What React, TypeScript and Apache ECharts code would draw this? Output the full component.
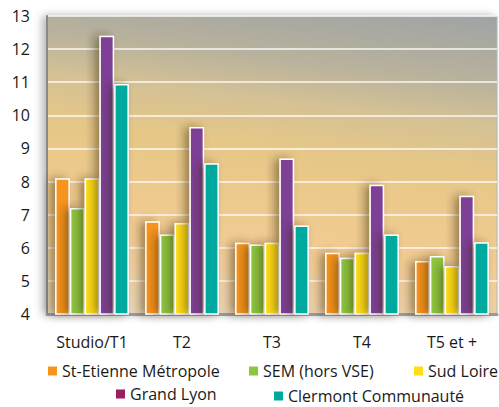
import React, { useEffect, useRef } from "react";
import * as echarts from "echarts";

const categories = ["Studio/T1", "T2", "T3", "T4", "T5 et +"];
const seriesNames = [
  "St-Etienne Métropole",
  "SEM (hors VSE)",
  "Sud Loire",
  "Grand Lyon",
  "Clermont Communauté",
];
const stEtienne = [8.1, 6.8, 6.15, 5.85, 5.6];
const sem = [7.2, 6.4, 6.1, 5.7, 5.75];
const sudLoire = [8.1, 6.75, 6.15, 5.85, 5.45];
const grandLyon = [12.4, 9.65, 8.7, 7.9, 7.57];
const clermont = [10.95, 8.55, 6.67, 6.4, 6.17];
const seriesValues = [stEtienne, sem, sudLoire, grandLyon, clermont];
const barColors = ["#f7941d", "#8dc63f", "#ffdd17", "#7e3f97", "#00a99d"];
const legendColors = ["#f7941d", "#8dc63f", "#ffdd17", "#9b1d5f", "#00a99d"];
const yTicks = { min: 4, max: 13, interval: 1 };

const FONT = "'Open Sans', 'Noto Sans', sans-serif";

export default function App() {
  const ref = useRef<HTMLDivElement>(null);
  useEffect(() => {
    if (!ref.current) return;
    const chart = echarts.init(ref.current, null, { renderer: "svg" });
    const legendPos = [
      { left: 48, top: 363, lh: 16 },
      { left: 249, top: 363, lh: 16 },
      { left: 414, top: 363, lh: 16 },
      { left: 116, top: 386, lh: 14 },
      { left: 274, top: 388, lh: 14 },
    ];
    chart.setOption({
      animation: false,
      grid: {
        left: 47,
        right: 2,
        top: 16,
        bottom: 93,
        show: true,
        borderWidth: 1,
        borderColor: "#b4b4b4",
        backgroundColor: {
          type: "linear",
          x: 0,
          y: 1,
          x2: 0.23,
          y2: -0.31,
          colorStops: [
            { offset: 0, color: "#e9d7bd" },
            { offset: 0.22, color: "#f3cc93" },
            { offset: 0.48, color: "#e6c787" },
            { offset: 0.6, color: "#d4c195" },
            { offset: 0.7, color: "#b9b29c" },
            { offset: 0.85, color: "#a2a5a4" },
            { offset: 1, color: "#8b929a" },
          ],
        },
        shadowColor: "rgba(0,0,0,0.3)",
        shadowBlur: 8,
        shadowOffsetX: -4,
      },
      legend: legendPos.map((p, i) => ({
        left: p.left,
        top: p.top,
        orient: "horizontal",
        padding: 0,
        itemWidth: 9,
        itemHeight: 9,
        icon: "rect",
        data: [
          {
            name: seriesNames[i],
            itemStyle: { color: legendColors[i], borderWidth: 0 },
          },
        ],
        textStyle: {
          fontFamily: FONT,
          fontSize: 16,
          color: "#1a1a1a",
          lineHeight: p.lh,
        },
        selectedMode: false,
      })),
      xAxis: {
        type: "category",
        data: categories,
        axisLine: { show: true, lineStyle: { color: "#9a9a9a", width: 3 } },
        axisTick: { show: false },
        axisLabel: {
          interval: 0,
          margin: 20,
          fontFamily: FONT,
          fontSize: 16,
          color: "#1a1a1a",
        },
      },
      yAxis: {
        type: "value",
        min: yTicks.min,
        max: yTicks.max,
        interval: yTicks.interval,
        axisLine: { show: true, lineStyle: { color: "#8a8a8a", width: 2 } },
        axisTick: { show: false },
        splitLine: {
          show: true,
          lineStyle: { color: "rgba(255,255,255,0.9)", width: 1.5 },
        },
        axisLabel: {
          margin: 17,
          fontFamily: FONT,
          fontSize: 16,
          color: "#1a1a1a",
        },
      },
      series: seriesValues.map((vals, i) => ({
        type: "bar",
        name: seriesNames[i],
        data: vals,
        barGap: "0%",
        barCategoryGap: "18%",
        itemStyle: {
          color: barColors[i],
          borderColor: "#ffffff",
          borderWidth: 1.5,
          shadowColor: "rgba(50,35,15,0.45)",
          shadowBlur: 10,
          shadowOffsetX: -5,
        },
      })),
    });
    return () => chart.dispose();
  }, []);
  return <div ref={ref} style={{ width: 499, height: 407, position: "absolute", left: 0, top: 0 }} />;
}
